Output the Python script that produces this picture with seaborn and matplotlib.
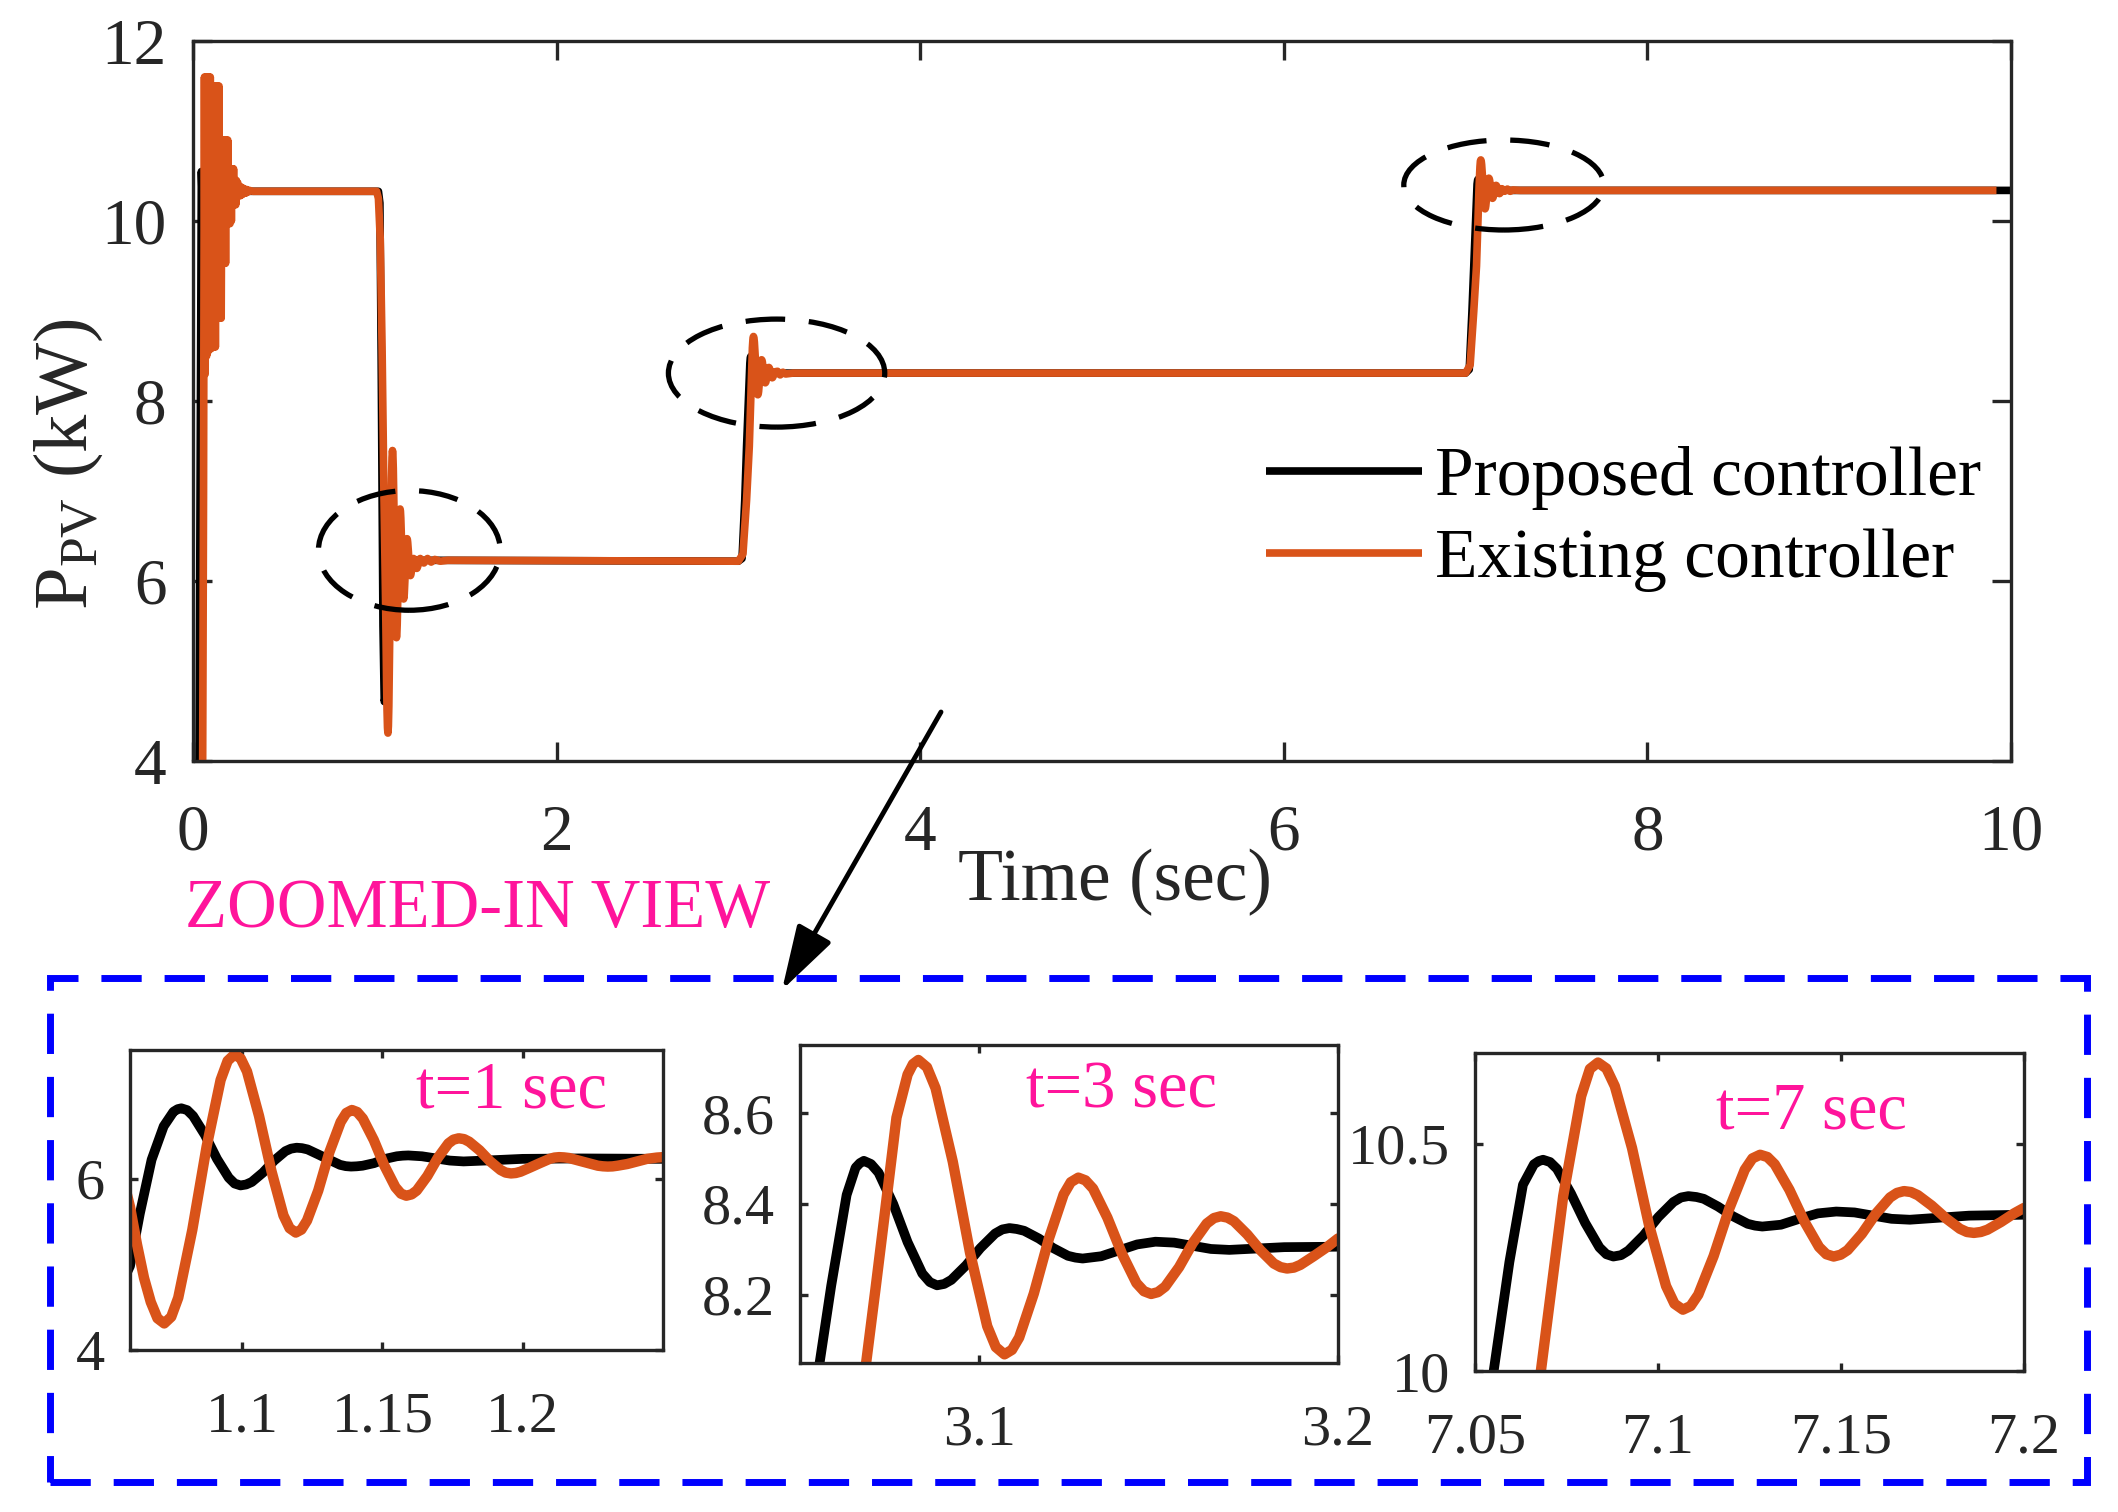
import numpy as np
import pandas as pd
import matplotlib
matplotlib.use("Agg")
import matplotlib.pyplot as plt
import seaborn as sns
from matplotlib.patches import Ellipse, Rectangle, FancyArrowPatch

# ---------------- data ----------------
# start-up transient and first plateau (orange = existing controller)
orange_seg0_t = [0.000, 0.050, 0.058, 0.063, 0.067, 0.071, 0.075, 0.079, 0.083, 0.087, 0.091, 0.095,
                 0.099, 0.103, 0.107, 0.111, 0.115, 0.119, 0.123, 0.127, 0.131, 0.135, 0.139, 0.143,
                 0.147, 0.151, 0.155, 0.159, 0.163, 0.167, 0.171, 0.175, 0.179, 0.183, 0.187, 0.191,
                 0.195, 0.199, 0.203, 0.207, 0.211, 0.215, 0.219, 0.223, 0.227, 0.231, 0.235, 0.239,
                 0.243, 0.247, 0.251, 0.255, 0.259, 0.263, 0.267, 0.271, 0.275, 0.279, 0.283, 0.287,
                 0.291, 0.295, 0.300, 0.310, 0.330, 0.500, 1.010, 1.020, 1.030, 1.040, 1.050]
orange_seg0_p = [0.00, 2.00, 7.00, 11.60, 8.30, 11.60, 8.50, 11.60, 8.55, 11.60, 8.58, 11.60,
                 8.58, 11.50, 8.60, 11.50, 8.60, 11.50, 8.60, 11.50, 8.92, 11.50, 8.92, 11.50,
                 8.92, 10.90, 8.92, 10.90, 9.53, 10.90, 9.53, 10.90, 9.53, 10.90, 9.97, 10.90,
                 9.97, 10.58, 9.97, 10.58, 10.00, 10.58, 10.18, 10.58, 10.18, 10.45, 10.18, 10.45,
                 10.27, 10.42, 10.28, 10.38, 10.28, 10.38, 10.29, 10.37, 10.30, 10.36, 10.31, 10.35,
                 10.31, 10.35, 10.32, 10.34, 10.33, 10.33, 10.33, 10.25, 9.80, 8.60, 7.00]
orange_seg1_t = [1.270, 1.290, 1.310, 1.330, 1.360, 1.400, 3.000, 3.025, 3.045, 3.060]
orange_seg1_p = [6.20, 6.25, 6.21, 6.24, 6.22, 6.23, 6.22, 6.30, 6.90, 7.50]
orange_seg2_t = [3.215, 3.230, 3.245, 3.260, 3.300, 7.000, 7.025, 7.045, 7.060]
orange_seg2_p = [8.33, 8.29, 8.32, 8.30, 8.31, 8.31, 8.40, 9.00, 9.50]
orange_seg3_t = [7.215, 7.230, 7.245, 7.260, 7.300, 9.920]
orange_seg3_p = [10.33, 10.355, 10.33, 10.345, 10.34, 10.34]

black_seg0_t = [0.000, 0.030, 0.040, 0.046, 0.052, 0.058, 0.065, 0.075, 0.100, 1.020, 1.028,
                1.035, 1.045, 1.052, 1.056]
black_seg0_p = [0.00, 2.50, 7.50, 10.55, 10.15, 10.42, 10.30, 10.35, 10.33, 10.33, 10.20,
                8.50, 5.50, 4.66, 4.70]
black_seg1_t = [1.300, 3.000, 3.020, 3.035, 3.045]
black_seg1_p = [6.23, 6.22, 6.25, 6.90, 7.50]
black_seg2_t = [3.250, 7.000, 7.020, 7.035, 7.045]
black_seg2_p = [8.31, 8.31, 8.35, 9.00, 9.50]
black_seg3_t = [7.250, 10.000]
black_seg3_p = [10.34, 10.34]

# zoomed window t = 1 s
z1_t_orange = [1.0600, 1.0625, 1.0650, 1.0674, 1.0698, 1.0722, 1.0747, 1.0772, 1.0822, 1.0873,
               1.0923, 1.0948, 1.0973, 1.0995, 1.1017, 1.1060, 1.1104, 1.1147, 1.1169, 1.1191,
               1.1211, 1.1231, 1.1271, 1.1311, 1.1351, 1.1371, 1.1391, 1.1410, 1.1430, 1.1469,
               1.1507, 1.1546, 1.1566, 1.1585, 1.1604, 1.1622, 1.1660, 1.1697, 1.1735, 1.1753,
               1.1772, 1.1791, 1.1809, 1.1846, 1.1884, 1.1921, 1.1939, 1.1958, 1.1975, 1.1992,
               1.2027, 1.2061, 1.2096, 1.2113, 1.2130, 1.2147, 1.2165, 1.2199, 1.2234, 1.2268,
               1.2286, 1.2303, 1.2320, 1.2338, 1.2373, 1.2408, 1.2443, 1.2478, 1.2500]
z1_p_orange = [5.67, 5.23, 4.84, 4.56, 4.37, 4.31, 4.387, 4.61, 5.40, 6.37,
               7.15, 7.373, 7.45, 7.399, 7.25, 6.73, 6.09, 5.57, 5.421, 5.37,
               5.405, 5.51, 5.86, 6.31, 6.66, 6.765, 6.80, 6.776, 6.70, 6.45,
               6.15, 5.90, 5.824, 5.80, 5.816, 5.86, 6.03, 6.24, 6.41, 6.454,
               6.47, 6.460, 6.43, 6.33, 6.20, 6.10, 6.070, 6.06, 6.065, 6.08,
               6.13, 6.18, 6.23, 6.245, 6.25, 6.247, 6.24, 6.21, 6.18, 6.15,
               6.143, 6.14, 6.142, 6.15, 6.17, 6.20, 6.23, 6.245, 6.25]
z1_t_black = [1.0600, 1.0635, 1.0677, 1.0720, 1.0755, 1.0770, 1.0783, 1.0804, 1.0825, 1.0867,
              1.0910, 1.0952, 1.0973, 1.0994, 1.1014, 1.1034, 1.1074, 1.1114, 1.1154, 1.1174,
              1.1194, 1.1213, 1.1233, 1.1272, 1.1310, 1.1349, 1.1369, 1.1388, 1.1408, 1.1429,
              1.1470, 1.1510, 1.1551, 1.1572, 1.1592, 1.1641, 1.1691, 1.1740, 1.1789, 1.1900,
              1.2000, 1.2200, 1.2500]
z1_p_black = [4.98, 5.59, 6.22, 6.61, 6.78, 6.81, 6.82, 6.798, 6.73, 6.51,
              6.23, 6.01, 5.942, 5.92, 5.931, 5.96, 6.07, 6.21, 6.32, 6.349,
              6.36, 6.355, 6.34, 6.28, 6.22, 6.16, 6.145, 6.14, 6.143, 6.15,
              6.18, 6.23, 6.26, 6.267, 6.27, 6.26, 6.235, 6.21, 6.20, 6.215,
              6.23, 6.235, 6.23]

# zoomed window t = 3 s
z2_t_orange = [3.0672, 3.0684, 3.0710, 3.0735, 3.0769, 3.0800, 3.0815, 3.0830, 3.0854, 3.0878,
               3.0926, 3.0974, 3.1022, 3.1046, 3.1070, 3.1091, 3.1111, 3.1152, 3.1194, 3.1235,
               3.1255, 3.1276, 3.1296, 3.1317, 3.1357, 3.1398, 3.1438, 3.1459, 3.1479, 3.1498,
               3.1518, 3.1557, 3.1595, 3.1634, 3.1654, 3.1673, 3.1692, 3.1710, 3.1747, 3.1784,
               3.1821, 3.1840, 3.1858, 3.1877, 3.1895, 3.1932, 3.1969, 3.2000]
z2_p_orange = [7.95, 8.048, 8.21, 8.37, 8.59, 8.685, 8.708, 8.717, 8.701, 8.655,
               8.493, 8.293, 8.131, 8.085, 8.069, 8.079, 8.106, 8.203, 8.324, 8.421,
               8.448, 8.458, 8.452, 8.434, 8.370, 8.290, 8.226, 8.208, 8.202, 8.206,
               8.218, 8.261, 8.314, 8.357, 8.369, 8.373, 8.370, 8.362, 8.333, 8.298,
               8.269, 8.261, 8.258, 8.260, 8.266, 8.285, 8.305, 8.324]
z2_t_black = [3.0545, 3.0587, 3.0630, 3.0655, 3.0667, 3.0678, 3.0698, 3.0719, 3.0760, 3.0800,
              3.0841, 3.0862, 3.0882, 3.0902, 3.0922, 3.0963, 3.1003, 3.1044, 3.1064, 3.1084,
              3.1104, 3.1125, 3.1166, 3.1206, 3.1247, 3.1268, 3.1288, 3.1340, 3.1390, 3.1440,
              3.1491, 3.1543, 3.1594, 3.1646, 3.1697, 3.1850, 3.2000]
z2_p_black = [8.00, 8.22, 8.42, 8.48, 8.49, 8.495, 8.488, 8.469, 8.400, 8.316,
              8.247, 8.228, 8.221, 8.224, 8.233, 8.265, 8.303, 8.335, 8.344, 8.347,
              8.345, 8.341, 8.324, 8.303, 8.286, 8.282, 8.280, 8.285, 8.298, 8.311,
              8.317, 8.315, 8.308, 8.301, 8.299, 8.305, 8.306]

# zoomed window t = 7 s
z3_t_orange = [7.0670, 7.0680, 7.0710, 7.0741, 7.0790, 7.0814, 7.0836, 7.0859, 7.0882, 7.0929,
               7.0975, 7.1022, 7.1045, 7.1068, 7.1089, 7.1110, 7.1152, 7.1195, 7.1237, 7.1258,
               7.1279, 7.1299, 7.1319, 7.1359, 7.1400, 7.1440, 7.1460, 7.1480, 7.1499, 7.1518,
               7.1557, 7.1595, 7.1634, 7.1653, 7.1672, 7.1691, 7.1710, 7.1748, 7.1787, 7.1825,
               7.1844, 7.1863, 7.1882, 7.1900, 7.1937, 7.1973, 7.2000]
z3_p_orange = [9.93, 10.00, 10.19, 10.385, 10.605, 10.665, 10.679, 10.666, 10.627, 10.491,
               10.323, 10.187, 10.148, 10.135, 10.143, 10.168, 10.253, 10.358, 10.443, 10.468,
               10.476, 10.471, 10.455, 10.399, 10.329, 10.273, 10.257, 10.252, 10.256, 10.266,
               10.302, 10.346, 10.382, 10.392, 10.396, 10.394, 10.387, 10.364, 10.336, 10.313,
               10.306, 10.304, 10.306, 10.311, 10.328, 10.347, 10.359]
z3_t_black = [7.0540, 7.0551, 7.0594, 7.0631, 7.0661, 7.0674, 7.0686, 7.0705, 7.0724, 7.0762,
              7.0801, 7.0840, 7.0859, 7.0878, 7.0899, 7.0919, 7.0960, 7.1001, 7.1042, 7.1063,
              7.1083, 7.1105, 7.1125, 7.1164, 7.1204, 7.1245, 7.1265, 7.1285, 7.1336, 7.1386,
              7.1437, 7.1487, 7.1537, 7.1588, 7.1638, 7.1688, 7.1850, 7.2000]
z3_p_black = [9.92, 10.00, 10.24, 10.41, 10.455, 10.462, 10.465, 10.460, 10.445, 10.391,
              10.326, 10.272, 10.257, 10.252, 10.255, 10.265, 10.298, 10.339, 10.372, 10.382,
              10.385, 10.383, 10.379, 10.362, 10.341, 10.324, 10.320, 10.318, 10.322, 10.335,
              10.347, 10.351, 10.349, 10.342, 10.335, 10.333, 10.342, 10.344]

series_labels = ["Proposed controller", "Existing controller"]
main_xticks = [0, 2, 4, 6, 8, 10]
main_yticks = [4, 6, 8, 10, 12]
zoom_titles = ["t=1 sec", "t=3 sec", "t=7 sec"]
zoom_xlims = [(1.06, 1.25), (3.05, 3.20), (7.05, 7.20)]
zoom_ylims = [(4.0, 7.5), (8.05, 8.75), (10.0, 10.7)]
zoom_xticks = [[1.1, 1.15, 1.2], [3.1, 3.2], [7.05, 7.1, 7.15, 7.2]]
zoom_xticklabels = [["1.1", "1.15", "1.2"], ["3.1", "3.2"], ["7.05", "7.1", "7.15", "7.2"]]
zoom_yticks = [[4, 6], [8.2, 8.4, 8.6], [10, 10.5]]
zoom_yticklabels = [["4", "6"], ["8.2", "8.4", "8.6"], ["10", "10.5"]]

# full series
orange_t = orange_seg0_t + z1_t_orange + orange_seg1_t + z2_t_orange + orange_seg2_t + z3_t_orange + orange_seg3_t
orange_p = orange_seg0_p + z1_p_orange + orange_seg1_p + z2_p_orange + orange_seg2_p + z3_p_orange + orange_seg3_p
black_t = black_seg0_t + z1_t_black + black_seg1_t + z2_t_black + black_seg2_t + z3_t_black + black_seg3_t
black_p = black_seg0_p + z1_p_black + black_seg1_p + z2_p_black + black_seg2_p + z3_p_black + black_seg3_p
df_black = pd.DataFrame({"t": black_t, "p": black_p})
df_orange = pd.DataFrame({"t": orange_t, "p": orange_p})

# ---------------- style ----------------
sns.set_style("ticks")
plt.rcParams["font.family"] = ["Liberation Serif", "DejaVu Serif"]
plt.rcParams["mathtext.fontset"] = "custom"
plt.rcParams["mathtext.rm"] = "Liberation Serif"
plt.rcParams["mathtext.it"] = "Liberation Serif:italic"
plt.rcParams["mathtext.bf"] = "Liberation Serif:bold"

W, H = 2118, 1512
fig = plt.figure(figsize=(W / 100, H / 100), dpi=100)
fig.patch.set_facecolor("white")

ORANGE = "#D95319"
BLACK = "#000000"
PINK = "#FF149B"
GRAY = "#262626"
line_kw = dict(estimator=None, sort=False, solid_joinstyle="round", solid_capstyle="butt")


def px_axes(l, t, r, b):
    return fig.add_axes([l / W, 1 - b / H, (r - l) / W, (b - t) / H])


def style_axes(ax, lab_size, tick_len, xpad, ypad):
    for s in ax.spines.values():
        s.set_linewidth(2.4)
        s.set_color(GRAY)
        s.set_visible(True)
    ax.tick_params(axis="both", which="both", direction="in", top=True, right=True,
                   length=tick_len, width=2.4, color=GRAY, labelcolor=GRAY, labelsize=lab_size)
    ax.tick_params(axis="x", pad=xpad)
    ax.tick_params(axis="y", pad=ypad)
    ax.set_xlabel("")
    ax.set_ylabel("")
    ax.set_facecolor("white")
    ax.grid(False)


# ---------------- main axes ----------------
ax = px_axes(193, 41, 2011, 761)
sns.lineplot(data=df_black, x="t", y="p", ax=ax, color=BLACK, lw=5.5, **line_kw)
sns.lineplot(data=df_orange, x="t", y="p", ax=ax, color=ORANGE, lw=5.5, **line_kw)
ax.set_xlim(0, 10)
ax.set_ylim(4, 12)
ax.set_xticks(main_xticks)
ax.set_xticklabels([str(v) for v in main_xticks])
ax.set_yticks(main_yticks)
ax.set_yticklabels([str(v) for v in main_yticks])
style_axes(ax, 47, 14, 31, 19)

lines = ax.get_lines()
leg = ax.legend(lines[:2], series_labels, loc="center left",
                bbox_to_anchor=(1266 / W, 1 - 519 / H), bbox_transform=fig.transFigure,
                frameon=False, fontsize=50, handlelength=2.25, handletextpad=0.18,
                borderpad=0, borderaxespad=0, labelspacing=0.26)
for txt in leg.get_texts():
    txt.set_color("black")

# dashed ellipses around transients
for (cx, cy, ew, eh) in [(1.19, 6.34, 1.0, 1.33), (3.21, 8.31, 1.19, 1.2), (7.21, 10.40, 1.1, 1.0)]:
    ax.add_patch(Ellipse((cx, cy), ew, eh, fill=False, ec="black", lw=3.8,
                         ls=(0, (7.5, 4.5)), zorder=6))

fig.text(1115 / W, 1 - 900 / H, "Time (sec)", ha="center", va="baseline", fontsize=53, color=GRAY)
fig.text(87 / W, 1 - 464 / H, r"P$_{\mathrm{PV}}$ (kW)", rotation=90, rotation_mode="anchor",
         ha="center", va="baseline", fontsize=55, color=GRAY)

# ---------------- zoom annotation ----------------
fig.text(185 / W, 1 - 927 / H, "ZOOMED-IN VIEW", ha="left", va="baseline", fontsize=49.5, color=PINK)
fig.add_artist(FancyArrowPatch((941 / W, 1 - 712 / H), (782 / W, 1 - 990 / H),
                               transform=fig.transFigure,
                               arrowstyle="-|>,head_length=2.0,head_width=0.6",
                               mutation_scale=20, lw=3.5, color="black", shrinkA=0, shrinkB=0))
fig.add_artist(Rectangle((50 / W, 1 - 1482 / H), 2037 / W, 504 / H, transform=fig.transFigure,
                         fill=False, ec="#0000FF", lw=5, ls=(0, (5.8, 3.3))))

# ---------------- inset axes ----------------
inset_boxes = [(130, 1050, 663, 1350), (800, 1045, 1338, 1363), (1475, 1053, 2024, 1371)]
title_pos = [(0.537, 0.807), (0.42, 0.802), (0.439, 0.764)]
for i, box in enumerate(inset_boxes):
    axi = px_axes(*box)
    sns.lineplot(data=df_black, x="t", y="p", ax=axi, color=BLACK, lw=7, **line_kw)
    sns.lineplot(data=df_orange, x="t", y="p", ax=axi, color=ORANGE, lw=7.5, **line_kw)
    axi.set_xlim(*zoom_xlims[i])
    axi.set_ylim(*zoom_ylims[i])
    axi.set_xticks(zoom_xticks[i])
    axi.set_xticklabels(zoom_xticklabels[i])
    axi.set_yticks(zoom_yticks[i])
    axi.set_yticklabels(zoom_yticklabels[i])
    style_axes(axi, 42, 6, 30, 18)
    if axi.get_legend() is not None:
        axi.get_legend().remove()
    axi.text(title_pos[i][0], title_pos[i][1], zoom_titles[i], transform=axi.transAxes,
             ha="left", va="baseline", fontsize=48, color=PINK)

fig.savefig("out.png", dpi=100, facecolor="white")
